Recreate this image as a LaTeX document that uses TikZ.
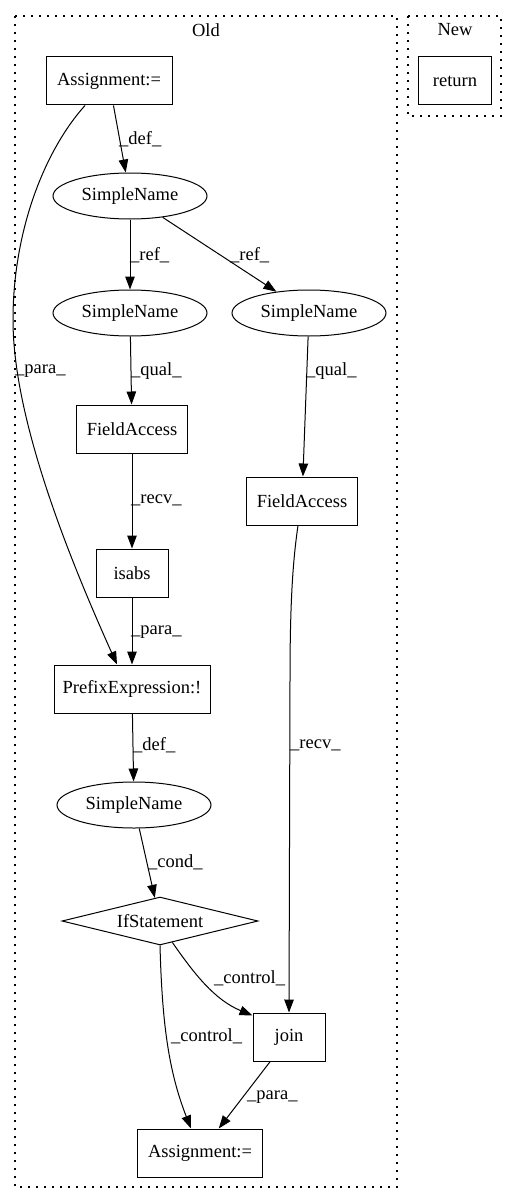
\documentclass[tikz,border=0pt]{standalone}
\usepackage{fontspec}
\setmainfont{Liberation Serif}
\usetikzlibrary{shapes.geometric,arrows.meta}
\begin{document}
\begin{tikzpicture}[x=1pt,y=-1pt,
        every node/.style={font=\fontsize{18.5pt}{20pt}\selectfont},
        box/.style={draw, line width=1pt, rectangle, minimum height=48pt, inner sep=0pt},
        oval/.style={draw, line width=1pt, ellipse, minimum width=154pt, minimum height=46pt, inner sep=0pt},
        cond/.style={draw, line width=1pt, diamond, aspect=4, minimum width=196pt, minimum height=48pt, inner sep=0pt},
        edge/.style={draw, line width=1pt, -{Triangle[length=13pt,width=9.5pt]}},
        lbl/.style={anchor=west, inner sep=0pt},
        cluster/.style={draw, line width=1.3pt, dash pattern=on 1.6pt off 6.4pt}]
        \useasboundingbox (0,0) rectangle (517,1204);
        % two clusters
        \draw[cluster] (15,16) rectangle (397,1187);
        \node (old) at (206,30) {Old};
        \draw[cluster] (408,16) rectangle (501,116);
        \node (new) at (455,30) {New};
        \node[box, minimum width=73pt] (ret) at (455,81) {return};
        % old graph
        \node[box, minimum width=126pt] (asg1) at (109,81) {Assignment:=};
        \node[oval] (sn1) at (130,196) {SimpleName};
        \node[oval] (sn2) at (130,313) {SimpleName};
        \node[oval] (sn3) at (309,313) {SimpleName};
        \node[box, minimum width=111pt] (fa1) at (132,429) {FieldAccess};
        \node[box, minimum width=111pt] (fa2) at (302,501) {FieldAccess};
        \node[box, minimum width=72pt] (isabs) at (132,573) {isabs};
        \node[box, minimum width=156pt] (prefix) at (132,689) {PrefixExpression:!};
        \node[oval] (sn4) at (134,805) {SimpleName};
        \node[cond] (ifst) at (160,921) {IfStatement};
        \node[box, minimum width=72pt] (join) at (289,1037) {join};
        \node[box, minimum width=125pt] (asg2) at (200,1153) {Assignment:=};
        % edges
        \draw[edge] (asg1) -- (sn1);
        \draw[edge] ([xshift=-24pt]asg1.south) .. controls (45,150) and (13,230) .. (13,320)
            .. controls (13,420) and (70,560) .. ([xshift=-15pt]prefix.north);
        \draw[edge] (sn1) -- (sn2);
        \draw[edge] (sn1) -- (sn3);
        \draw[edge] (sn2) -- (fa1);
        \draw[edge] (sn3) -- (fa2);
        \draw[edge] (fa1) -- (isabs);
        \draw[edge] (isabs) -- (prefix);
        \draw[edge] ([xshift=-4pt]fa2.south) .. controls (293,560) and (290,600) .. (290,680) -- (join.north);
        \draw[edge] (prefix) -- (sn4);
        \draw[edge] (sn4) -- (ifst);
        \draw[edge] (ifst.-60) .. controls (195,975) and (215,1000) .. ([yshift=-3pt]join.north west);
        \draw[edge] (ifst.south) .. controls (162,1020) and (168,1070) .. ([xshift=-9pt]asg2.north);
        \draw[edge] (join) -- (asg2);
        % edge labels
        \node[lbl] (l1) at (119,139) {\_def\_};
        \node[lbl] (l2) at (15,371) {\_para\_};
        \node[lbl] (l3) at (130,255) {\_ref\_};
        \node[lbl] (l4) at (230,255) {\_ref\_};
        \node[lbl] (l5) at (131,371) {\_qual\_};
        \node[lbl] (l6) at (306,371) {\_qual\_};
        \node[lbl] (l7) at (131,500) {\_recv\_};
        \node[lbl] (l8) at (131,632) {\_para\_};
        \node[lbl] (l9) at (290,745) {\_recv\_};
        \node[lbl] (l10) at (133,745) {\_def\_};
        \node[lbl] (l11) at (148,862) {\_cond\_};
        \node[lbl] (l12) at (214,978) {\_control\_};
        \node[lbl] (l13) at (171,1036) {\_control\_};
        \node[lbl] (l14) at (247,1097) {\_para\_};
    \end{tikzpicture}
\end{document}
